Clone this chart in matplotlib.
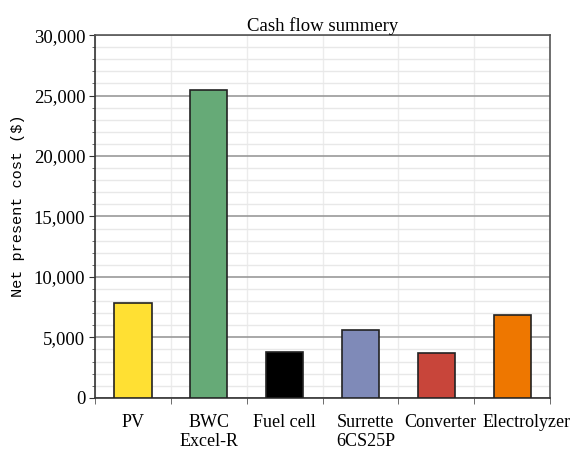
import numpy as np
import matplotlib
matplotlib.use("Agg")
import matplotlib.pyplot as plt
import matplotlib.transforms as mtransforms
from matplotlib.ticker import MultipleLocator, FuncFormatter

categories = ["PV", "BWC\nExcel-R", "Fuel cell", "Surrette\n6CS25P", "Converter", "Electrolyzer"]
npc = [7850, 25500, 3750, 5600, 3700, 6850]
colors = ["#FFE033", "#66AA77", "#000000", "#7F8AB8", "#C8453A", "#EE7700"]

plt.rcParams['font.family'] = ['Liberation Serif', 'DejaVu Serif']

fig = plt.figure(figsize=(5.76, 4.62), dpi=100)
ax = fig.add_axes([0.165, 0.139, 0.79, 0.785])

x = np.arange(len(categories))
ax.bar(x, npc, width=0.49, color=colors, edgecolor="#222222", linewidth=1.2, zorder=3)

ax.set_xlim(-0.5, len(categories) - 0.5)
ax.set_ylim(0, 30000)
ax.yaxis.set_major_locator(MultipleLocator(5000))
ax.yaxis.set_minor_locator(MultipleLocator(1000))
ax.yaxis.set_major_formatter(FuncFormatter(lambda v, p: f"{int(v):,}"))

ax.set_xticks(x)
ax.set_xticklabels(categories, fontsize=13, va="top", linespacing=1.15)
ax.set_xticks(np.arange(-0.5, len(categories)), minor=True)
ax.tick_params(axis="x", which="major", length=0, pad=12)
ax.tick_params(axis="x", which="minor", length=4, color="#555555")
ax.tick_params(axis="y", which="major", labelsize=13.5, length=4, color="#333333", pad=3)
ax.tick_params(axis="y", which="minor", length=2, color="#555555")

# nudge the last labels right so they don't collide
shifts = [0, 0, 0, 5, 4, 14]
for lab, dx in zip(ax.get_xticklabels(), shifts):
    if dx:
        lab.set_transform(lab.get_transform() + mtransforms.ScaledTranslation(dx / 100, 0, fig.dpi_scale_trans))

ax.grid(axis="y", which="major", color="#9a9a9a", linewidth=1.2, zorder=0)
ax.grid(axis="y", which="minor", color="#e8e8e8", linewidth=1.0, zorder=0)
ax.grid(axis="x", which="minor", color="#ececec", linewidth=1.0, zorder=0)

for side in ["left", "bottom"]:
    ax.spines[side].set_color("#333333")
    ax.spines[side].set_linewidth(1.2)
for side in ["top", "right"]:
    ax.spines[side].set_color("#555555")
    ax.spines[side].set_linewidth(1.2)

ax.set_title("Cash flow summery", fontsize=13.5, pad=3)
ax.set_ylabel("Net present cost ($)", fontsize=11, family=["Liberation Mono", "DejaVu Sans Mono"])
ax.yaxis.set_label_coords(-0.155, 0.53)

plt.savefig("out.png", dpi=100)
